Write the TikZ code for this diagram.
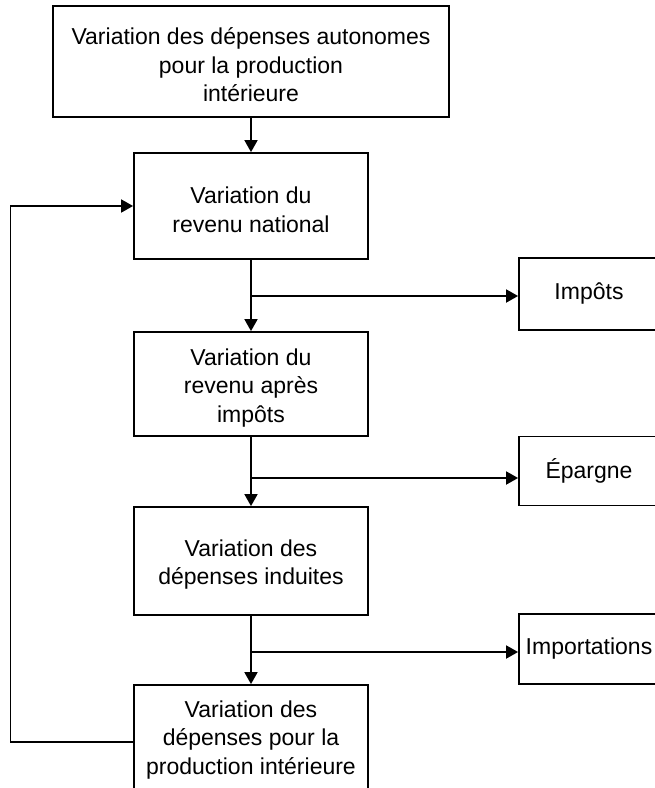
\documentclass[tikz,border=0pt]{standalone}
\usepackage{fontspec}
\setmainfont{Liberation Sans}
\usetikzlibrary{arrows.meta}
\newcommand{\dn}{\rule{0pt}{24pt}}
\tikzset{
  box/.style={draw, line width=1.8pt, align=center, inner sep=2pt, font=\fontsize{23}{28.5}\selectfont},
  conn/.style={line width=1.8pt},
  arr/.style={conn, -{Triangle[length=12pt,width=13pt]}}
}
\begin{document}
\begin{tikzpicture}[x=1pt,y=-1pt]
\useasboundingbox (0,0) rectangle (655,788);
\clip (0,0) rectangle (655,788);
\node[box, minimum width=396pt, minimum height=111pt] (top) at (251,61.5)
  {\dn Variation des dépenses autonomes\\pour la production\\intérieure};
\node[box, minimum width=234pt, minimum height=106pt] (b2) at (251,206)
  {\dn Variation du\\revenu national};
\node[box, minimum width=234pt, minimum height=104pt] (b3) at (251,384)
  {\dn Variation du\\revenu après\\impôts};
\node[box, minimum width=234pt, minimum height=108pt] (b4) at (251,561)
  {\dn Variation des\\dépenses induites};
\node[box, minimum width=234pt, minimum height=110pt] (b5) at (251,740)
  {Variation des\\dépenses pour la\\production intérieure};
\node[box, minimum width=140pt, minimum height=72pt] (imp) at (589,294) {Impôts};
\node[box, minimum width=140pt, minimum height=69pt] (ep) at (589,471) {Épargne};
\node[box, minimum width=140pt, minimum height=70pt, inner sep=0pt] (impo) at (589,649) {Importations};
\coordinate (j1) at (251,296);
\coordinate (j2) at (251,478);
\coordinate (j3) at (251,652);
\coordinate (fb) at (10.5,742);
\draw[arr] (top.south) -- (b2.north);
\draw[arr] (b2.south) -- (b3.north);
\draw[arr] (b3.south) -- (b4.north);
\draw[arr] (b4.south) -- (b5.north);
\draw[arr] (j1) -- (imp.west |- j1);
\draw[arr] (j2) -- (ep.west |- j2);
\draw[arr] (j3) -- (impo.west |- j3);
\draw[arr] (b5.west |- fb) -- (fb) |- (b2.west);
\end{tikzpicture}
\end{document}
